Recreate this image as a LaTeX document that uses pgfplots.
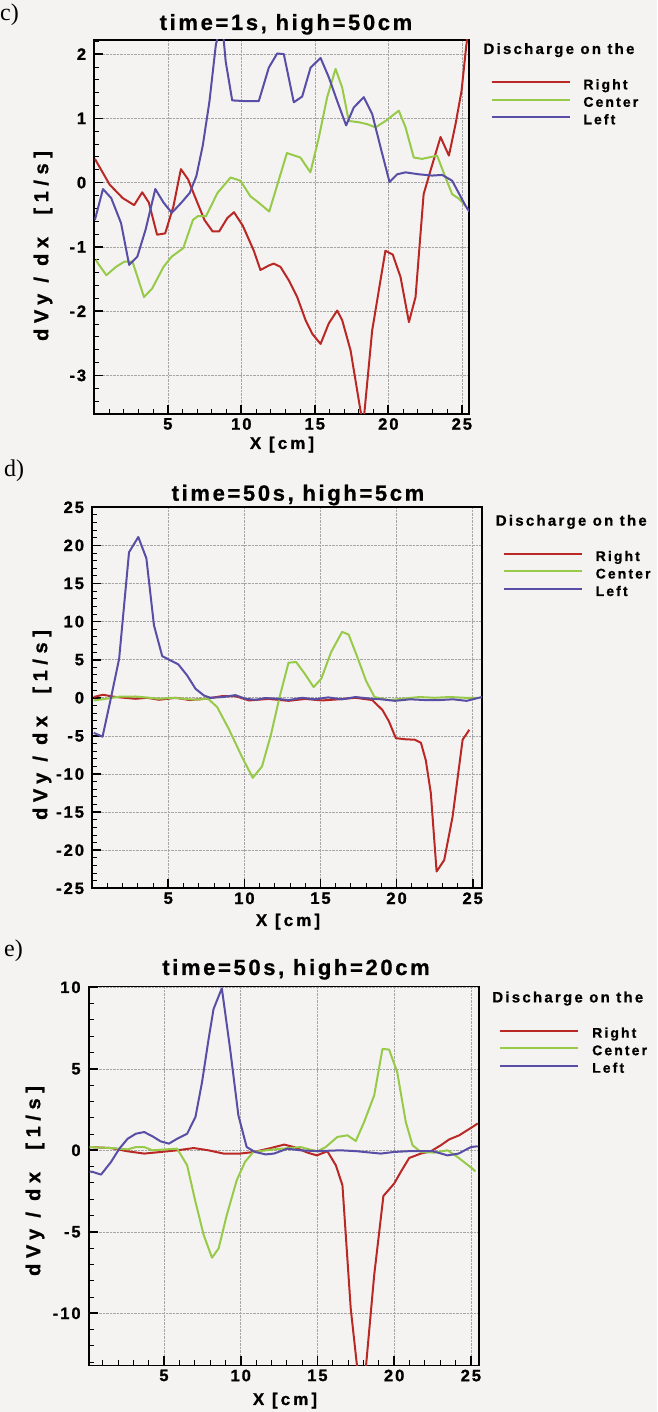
\documentclass[border=0pt]{standalone}
\usepackage{fontspec}
\setmainfont{Liberation Sans}
\newfontfamily\SerifF{Liberation Serif}
\newfontfamily\TitleF[LetterSpace=12,FakeBold=0.8]{Liberation Sans}
\newfontfamily\TickF[LetterSpace=12,FakeBold=1.2]{Liberation Sans}
\newfontfamily\LabF[LetterSpace=18,FakeBold=1]{Liberation Sans}
\newfontfamily\YLabF[LetterSpace=28,FakeBold=1]{Liberation Sans}
\newfontfamily\LegF[LetterSpace=15,FakeBold=0.8]{Liberation Sans}
\usepackage{pgfplots}
\pgfplotsset{compat=1.18}
\definecolor{bg}{RGB}{244,243,242}
\definecolor{cR}{RGB}{186,40,38}
\definecolor{cG}{RGB}{152,202,74}
\definecolor{cB}{RGB}{88,78,165}
\newcommand{\titlefont}{\TitleF\bfseries\fontsize{22}{24}\selectfont}
\newcommand{\labfont}{\LabF\bfseries\fontsize{17}{19}\selectfont}
\newcommand{\ylabfont}{\YLabF\bfseries\fontsize{20}{22}\selectfont}
\newcommand{\legfont}{\LegF\bfseries\fontsize{14}{16}\selectfont}
\newcommand{\headfont}{\LegF\bfseries\fontsize{15}{17}\selectfont}
\newcommand{\tickfont}{\TickF\bfseries\fontsize{16.5}{18}\selectfont}
\newcommand{\T}[1]{{\tickfont #1}}
\pgfplotsset{panel/.style={
  scale only axis,
  axis line style={line width=1.9pt},
  tick align=inside,
  xtick pos=left, ytick pos=left,
  xtick={5,10,15,20,25},
  xticklabels={\T{5},\T{10},\T{15},\T{20},\T{25}},
  minor xtick={1,2,3,4,6,7,8,9,11,12,13,14,16,17,18,19,21,22,23,24},
  major tick length=9pt, minor tick length=5pt,
  major tick style={line width=1.7pt, black},
  minor tick style={line width=0.9pt, black},
  grid=major,
  major grid style={densely dotted, black!35, line width=0.6pt},
  tick label style={font=\tickfont},
  xticklabel style={font=\tickfont, inner sep=0pt, yshift=-4pt, anchor=north},
  yticklabel style={font=\tickfont, inner sep=0pt, xshift=-8pt, anchor=east},
  every axis plot/.append style={line width=2pt, line join=round},
  legend cell align=left,
  legend image code/.code={\draw[##1, line width=2pt] (0pt,3.5pt) -- (78pt,3.5pt); \path (90.7pt,3.5pt);},
  legend style={draw=none, fill=none, inner sep=0pt, outer sep=0pt, anchor=north west,
    column sep=0pt, row sep=4.5pt,
    nodes={inner sep=0pt, outer sep=0pt, text height=10pt, text depth=3pt, font=\legfont}},
}}
\begin{document}
\begin{tikzpicture}
\fill[bg] (0,0) rectangle (657pt,1412pt);
\useasboundingbox (0,0) rectangle (657pt,1412pt);

% ---------------- panel c ----------------
\begin{axis}[panel, at={(94.3pt,998pt)}, anchor=south west, width=374.9pt, height=374pt,
  xmin=0, xmax=25.5, ymin=-3.6, ymax=2.22,
  ytick={-3,-2,-1,0,1,2}, yticklabels={\T{-3},\T{-2},\T{-1},\T{0},\T{1},\T{2}}, minor ytick={-3.4,-3.2,...,2.2},
  legend style={at={(axis description cs:1.0573,0.8949)}}]
\addplot[cR] coordinates {(0.04,0.37) (1.04,-0.03) (1.93,-0.24) (2.71,-0.35) (3.26,-0.15) (3.71,-0.31) (4.27,-0.81) (4.82,-0.79) (5.38,-0.37) (5.89,0.21) (6.38,0.05) (6.83,-0.21) (7.49,-0.58) (8.05,-0.76) (8.49,-0.76) (9.05,-0.55) (9.5,-0.46) (10.1,-0.67) (10.85,-1.06) (11.3,-1.36) (11.87,-1.29) (12.2,-1.26) (12.66,-1.31) (13.23,-1.52) (13.8,-1.78) (14.37,-2.14) (14.82,-2.35) (15.39,-2.51) (15.95,-2.19) (16.52,-1.99) (16.86,-2.14) (17.43,-2.61) (18.1,-3.54) (18.3,-3.75) (18.9,-2.3) (19.35,-1.68) (19.8,-1.06) (20.3,-1.12) (20.83,-1.47) (21.4,-2.17) (21.85,-1.78) (22.4,-0.18) (22.87,0.19) (23.55,0.71) (24.12,0.42) (24.57,0.91) (24.98,1.43) (25.3,2.13) (25.5,2.45)};
\addplot[cG] coordinates {(0.1,-1.2) (0.26,-1.26) (0.82,-1.44) (1.48,-1.31) (2.04,-1.23) (2.6,-1.23) (3.38,-1.78) (3.93,-1.65) (4.71,-1.31) (5.27,-1.15) (6.05,-1.02) (6.71,-0.58) (7.05,-0.52) (7.6,-0.52) (8.38,-0.16) (9.27,0.08) (9.94,0.03) (10.61,-0.21) (11.17,-0.31) (11.9,-0.45) (13.1,0.46) (14.02,0.39) (14.7,0.16) (15.27,0.70) (15.84,1.33) (16.41,1.77) (16.86,1.48) (17.31,0.96) (17.99,0.94) (18.56,0.91) (19.13,0.86) (19.81,0.96) (20.71,1.12) (21.17,0.86) (21.73,0.39) (22.3,0.37) (23.32,0.42) (23.89,0.08) (24.34,-0.18) (24.8,-0.25) (25.25,-0.36)};
\addplot[cB] coordinates {(0.04,-0.58) (0.59,-0.10) (1.15,-0.24) (1.82,-0.63) (2.37,-1.28) (2.93,-1.15) (3.49,-0.73) (4.15,-0.10) (4.71,-0.31) (5.27,-0.47) (5.93,-0.31) (6.49,-0.16) (6.94,0.10) (7.38,0.58) (7.83,1.26) (8.27,2.15) (8.5,2.35) (8.75,2.35) (8.94,1.88) (9.38,1.28) (10.16,1.27) (11.19,1.27) (11.87,1.79) (12.44,2.01) (12.89,2.00) (13.57,1.25) (14.14,1.34) (14.71,1.79) (15.39,1.94) (15.95,1.64) (16.52,1.27) (17.13,0.89) (17.65,1.17) (18.33,1.33) (18.9,1.07) (19.47,0.55) (20.08,0.01) (20.6,0.13) (21.17,0.16) (22.07,0.13) (22.98,0.11) (23.66,0.12) (24.34,0.03) (25.25,-0.36) (25.5,-0.45)};
\legend{Right,Center,Left}
\end{axis}

% ---------------- panel d ----------------
\begin{axis}[panel, at={(92.2pt,523.7pt)}, anchor=south west, width=389.6pt, height=381pt,
  xmin=0, xmax=25.6, ymin=-25, ymax=25,
  ytick={-25,-20,...,25}, yticklabels={\T{-25},\T{-20},\T{-15},\T{-10},\T{-5},\T{0},\T{5},\T{10},\T{15},\T{20},\T{25}}, minor ytick={-24,-23,...,24},
  legend style={at={(axis description cs:1.0544,0.8853)}}]
\addplot[cR] coordinates {(0.1,0.1) (0.7,0.4) (1.55,0.1) (2.86,-0.13) (3.6,0.0) (4.4,-0.26) (5.5,0.0) (6.4,-0.3) (7.45,-0.13) (8.54,0.22) (9.41,0.22) (10.3,-0.35) (11.6,-0.15) (12.9,-0.4) (14.0,-0.15) (15.1,-0.35) (16.2,-0.2) (17.3,0.0) (18.4,-0.3) (19.07,-1.6) (19.5,-3.1) (19.95,-5.3) (20.6,-5.45) (21.2,-5.5) (21.6,-5.9) (21.92,-8.2) (22.25,-12.5) (22.63,-22.8) (23.13,-21.3) (23.68,-15.6) (24.34,-5.5) (24.78,-4.2)};
\addplot[cG] coordinates {(0.1,-0.35) (0.9,-0.13) (1.8,0.15) (2.86,0.17) (4.4,-0.13) (5.3,0.0) (6.79,-0.26) (7.6,-0.1) (8.21,-1.22) (8.97,-4.07) (9.85,-7.79) (10.55,-10.5) (11.16,-9.0) (11.75,-4.8) (12.3,0.0) (12.9,4.6) (13.4,4.7) (13.95,3.2) (14.55,1.4) (15.05,2.5) (15.7,6.0) (16.42,8.65) (16.85,8.3) (17.45,5.2) (18.0,2.2) (18.55,0.1) (19.5,-0.3) (20.5,-0.1) (21.5,0.1) (22.5,0.0) (23.5,0.1) (24.5,0.0) (25.3,0.0)};
\addplot[cB] coordinates {(0.1,-4.6) (0.68,-5.1) (1.22,-0.13) (1.77,5.12) (2.42,19.1) (3.03,21.1) (3.56,18.3) (4.06,9.5) (4.6,5.47) (5.15,4.9) (5.66,4.38) (6.24,2.93) (6.79,1.18) (7.34,0.3) (7.77,0.0) (8.6,0.1) (9.41,0.35) (10.07,-0.13) (10.72,-0.26) (11.37,-0.04) (12.03,-0.1) (12.9,-0.3) (13.8,0.0) (14.6,-0.2) (15.5,0.05) (16.4,-0.2) (17.3,0.1) (18.2,-0.1) (19.0,-0.2) (19.9,-0.4) (20.9,-0.2) (21.9,-0.3) (22.8,-0.3) (23.7,-0.2) (24.6,-0.4) (25.6,0.1)};
\legend{Right,Center,Left}
\end{axis}

% ---------------- panel e ----------------
\begin{axis}[panel, at={(88.8pt,46.5pt)}, anchor=south west, width=390.5pt, height=379pt,
  xmin=0.1, xmax=25.55, ymin=-13.2, ymax=10.05,
  ytick={-10,-5,0,5,10}, yticklabels={\T{-10},\T{-5},\T{0},\T{5},\T{10}}, minor ytick={-13,-12,...,10},
  legend style={at={(axis description cs:1.0517,0.8913)}}]
\addplot[cR] coordinates {(0.15,0.2) (1.55,0.14) (2.63,-0.06) (3.71,-0.2) (4.8,-0.1) (5.86,0.0) (6.94,0.14) (7.9,0.0) (8.88,-0.2) (9.96,-0.2) (10.87,-0.1) (11.96,0.14) (12.83,0.35) (13.48,0.2) (14.35,-0.14) (14.96,-0.31) (15.65,-0.06) (16.2,-0.92) (16.63,-2.14) (17.17,-9.7) (17.6,-13.4) (18.15,-13.4) (18.7,-7.65) (19.3,-2.8) (20.0,-2.04) (20.43,-1.33) (20.98,-0.47) (21.74,-0.2) (22.39,-0.06) (23.04,0.31) (23.59,0.67) (24.24,0.92) (25.2,1.49) (25.45,1.65)};
\addplot[cG] coordinates {(0.15,0.2) (1.55,0.14) (2.63,0.06) (3.17,0.2) (3.71,0.2) (4.25,0.0) (5.0,0.05) (5.86,0.1) (6.51,-0.92) (7.05,-3.16) (7.59,-5.2) (8.13,-6.59) (8.56,-6.02) (9.09,-3.98) (9.74,-1.84) (10.28,-0.71) (10.82,-0.1) (12.17,0.06) (13.9,0.2) (14.46,0.06) (15.0,-0.06) (15.54,0.2) (16.3,0.82) (16.96,0.92) (17.5,0.57) (18.04,1.73) (18.7,3.37) (19.24,6.22) (19.67,6.18) (20.2,4.8) (20.76,1.73) (21.2,0.31) (21.74,-0.1) (22.6,-0.14) (23.48,0.0) (24.13,-0.41) (25.1,-1.12) (25.3,-1.3)};
\addplot[cB] coordinates {(0.15,-1.3) (0.37,-1.33) (0.9,-1.49) (1.55,-0.71) (2.09,0.10) (2.63,0.71) (3.17,1.02) (3.71,1.12) (4.25,0.86) (4.78,0.55) (5.32,0.41) (5.86,0.71) (6.51,1.02) (7.05,2.04) (7.48,4.18) (7.91,6.84) (8.23,8.67) (8.77,9.94) (9.31,6.22) (9.85,2.14) (10.39,0.2) (10.93,-0.1) (11.63,-0.25) (12.17,-0.2) (13.04,0.1) (13.9,0.0) (15.0,-0.05) (16.5,0.0) (17.5,-0.05) (19.13,-0.2) (20.0,-0.1) (21.0,-0.05) (22.5,-0.05) (23.48,-0.31) (24.2,-0.2) (25.0,0.2) (25.45,0.25)};
\legend{Right,Center,Left}
\end{axis}

% ---------------- texts (page coordinates, y downwards) ----------------
\begin{scope}[x=1pt,y=-1pt,shift={(0pt,1412pt)}]
\node[font=\SerifF\fontsize{24}{26}\selectfont, anchor=base west, inner sep=0pt] at (0,21) {c)};
\node[font=\SerifF\fontsize{24}{26}\selectfont, anchor=base west, inner sep=0pt] at (4,477) {d)};
\node[font=\SerifF\fontsize{24}{26}\selectfont, anchor=base west, inner sep=0pt] at (4,957) {e)};

\node[font=\titlefont, anchor=base, inner sep=0pt] at (286,30) {time=1s, high=50cm};
\node[font=\titlefont, anchor=base, inner sep=0pt] at (298,500.7) {time=50s, high=5cm};
\node[font=\titlefont, anchor=base, inner sep=0pt] at (296,975) {time=50s, high=20cm};

\node[font=\labfont, anchor=base, inner sep=0pt] at (282,449) {X [cm]};
\node[font=\labfont, anchor=base, inner sep=0pt] at (288,926) {X [cm]};
\node[font=\labfont, anchor=base, inner sep=0pt] at (285,1405) {X [cm]};

\node[font=\ylabfont, rotate=90, inner sep=0pt] at (43,246) {dVy / dx\ \ [1/s]};
\node[font=\ylabfont, rotate=90, inner sep=0pt] at (42,725) {dVy / dx\ \ [1/s]};
\node[font=\ylabfont, rotate=90, inner sep=0pt] at (35,1181) {dVy / dx\ \ [1/s]};

\node[font=\headfont, anchor=base west, inner sep=0pt] at (483.3,54) {Discharge on the};
\node[font=\headfont, anchor=base west, inner sep=0pt] at (495.6,525.7) {Discharge on the};
\node[font=\headfont, anchor=base west, inner sep=0pt] at (492.1,1002.4) {Discharge on the};
\end{scope}
\end{tikzpicture}
\end{document}
